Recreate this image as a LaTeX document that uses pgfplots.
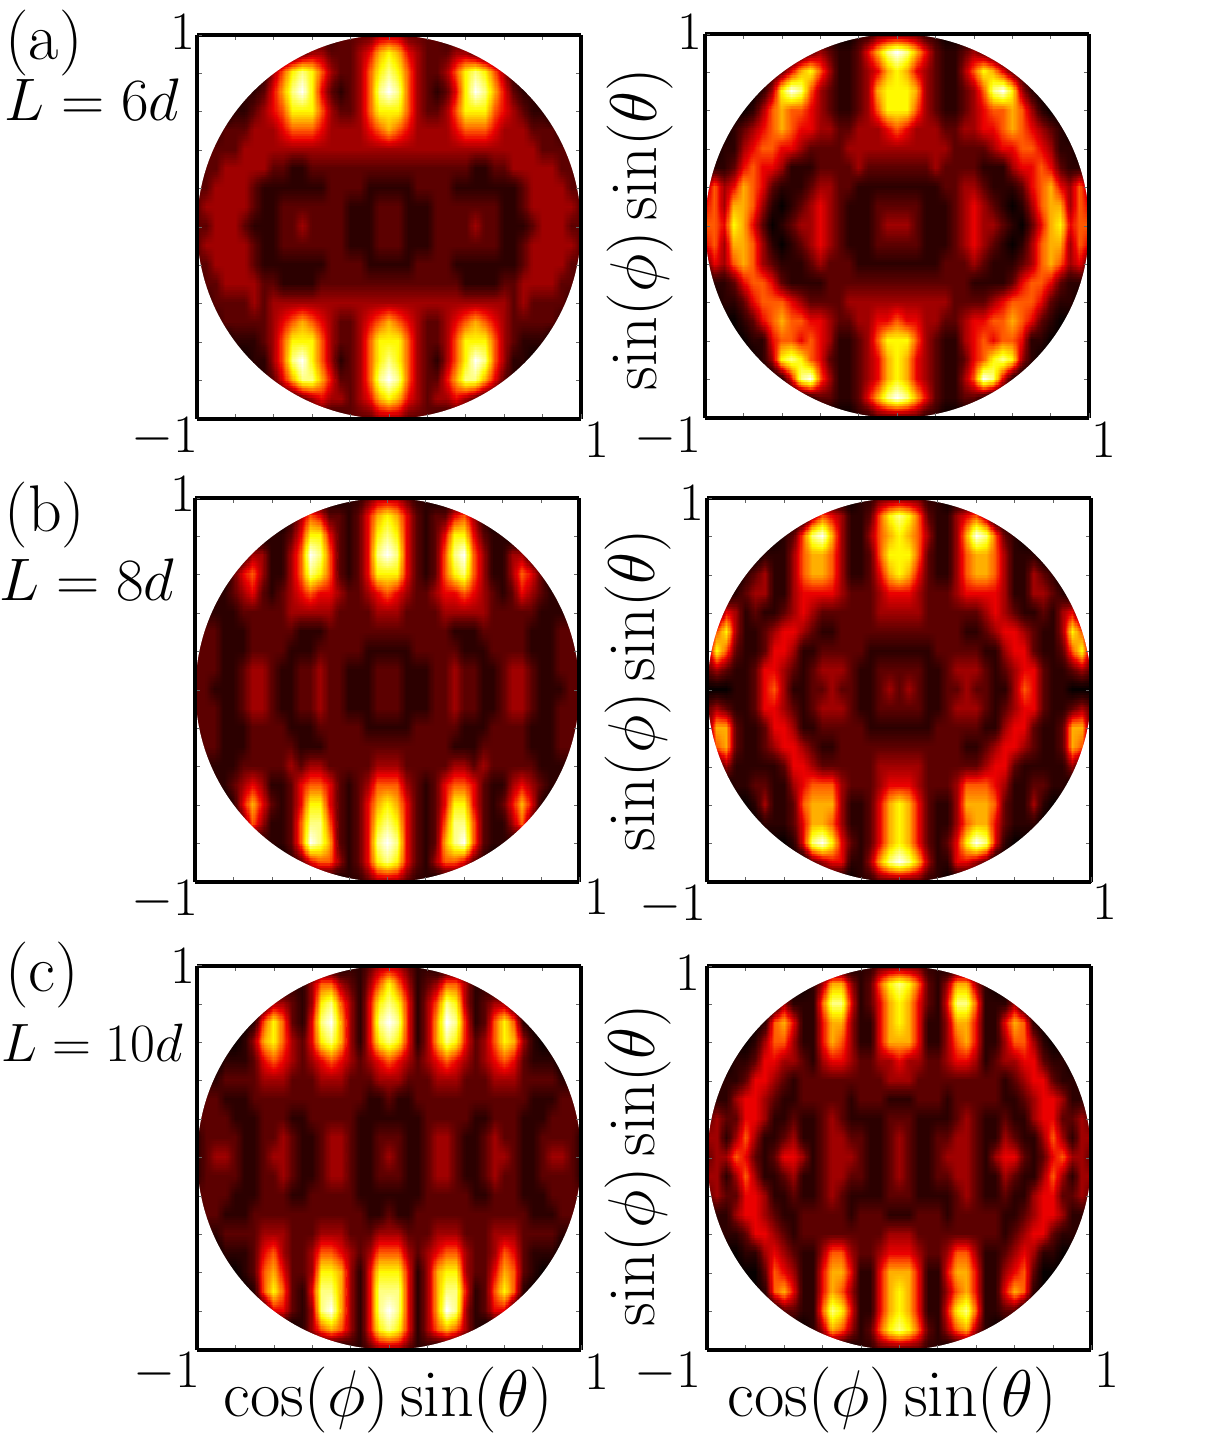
\RequirePackage{fix-cm}
\documentclass[border=0pt]{standalone}
\usepackage{pgfplots}
\usepackage{pgfplotstable}
\usepgfplotslibrary{patchplots}
\pgfplotsset{compat=1.18}

% intensity (levels 0-9), rows y=1..-1 step 0.1, columns |x|=0..1 step 0.05
\pgfplotstableset{row sep=\\,header=false}
\pgfplotstableread{
3\\3\\2\\2\\2\\2\\1\\1\\1\\1\\1\\0\\0\\0\\0\\0\\0\\0\\0\\0\\0\\
7\\6\\4\\3\\2\\2\\2\\3\\3\\2\\1\\1\\0\\0\\0\\0\\0\\0\\0\\0\\0\\
8\\7\\5\\3\\2\\2\\3\\5\\7\\8\\7\\5\\3\\1\\0\\0\\0\\0\\0\\0\\0\\
9\\8\\5\\3\\2\\1\\2\\4\\7\\9\\8\\6\\4\\2\\1\\1\\0\\0\\0\\0\\0\\
7\\7\\5\\3\\2\\2\\3\\5\\7\\7\\7\\5\\4\\3\\2\\1\\1\\0\\0\\0\\0\\
6\\5\\4\\3\\3\\3\\3\\4\\5\\5\\5\\4\\3\\3\\3\\2\\2\\2\\1\\0\\0\\
3\\3\\3\\3\\3\\3\\3\\3\\3\\3\\3\\3\\3\\3\\3\\3\\2\\2\\2\\2\\1\\
2\\2\\2\\2\\2\\2\\2\\2\\2\\1\\1\\2\\2\\3\\3\\3\\3\\3\\2\\2\\1\\
1\\1\\1\\2\\2\\2\\2\\1\\1\\1\\1\\1\\1\\1\\2\\3\\3\\3\\3\\2\\2\\
2\\2\\1\\1\\1\\2\\2\\2\\2\\2\\2\\2\\1\\1\\2\\3\\3\\3\\3\\3\\2\\
2\\2\\1\\1\\1\\2\\2\\2\\2\\3\\2\\2\\1\\1\\1\\2\\3\\3\\3\\2\\2\\
2\\2\\1\\1\\1\\2\\2\\2\\2\\2\\2\\2\\1\\1\\2\\3\\3\\3\\3\\3\\2\\
1\\1\\1\\2\\2\\2\\2\\1\\1\\1\\1\\1\\1\\1\\2\\3\\3\\3\\3\\2\\2\\
2\\2\\2\\2\\2\\2\\2\\2\\1\\1\\1\\1\\2\\2\\3\\3\\3\\3\\2\\2\\1\\
3\\3\\3\\3\\3\\3\\3\\3\\3\\3\\3\\3\\3\\2\\3\\2\\2\\2\\2\\1\\1\\
6\\5\\4\\3\\2\\2\\3\\4\\5\\6\\5\\4\\3\\2\\2\\2\\2\\2\\1\\0\\0\\
7\\7\\5\\3\\2\\2\\3\\5\\7\\7\\7\\5\\3\\2\\1\\1\\1\\0\\0\\0\\0\\
8\\7\\5\\3\\2\\1\\3\\5\\7\\9\\8\\5\\3\\1\\1\\0\\0\\0\\0\\0\\0\\
9\\8\\5\\3\\2\\2\\4\\6\\8\\8\\6\\4\\2\\1\\0\\0\\0\\0\\0\\0\\0\\
7\\6\\4\\3\\2\\3\\3\\4\\3\\2\\1\\1\\0\\0\\0\\0\\0\\0\\0\\0\\0\\
3\\3\\2\\2\\2\\1\\1\\1\\1\\1\\0\\0\\0\\0\\0\\0\\0\\0\\0\\0\\0\\
}\aL
\pgfplotstableread{
2\\2\\2\\1\\1\\0\\0\\0\\0\\0\\0\\0\\0\\0\\0\\0\\0\\0\\0\\0\\0\\
9\\8\\6\\4\\2\\1\\1\\2\\3\\2\\1\\0\\0\\0\\0\\0\\0\\0\\0\\0\\0\\
7\\6\\4\\3\\2\\1\\1\\3\\5\\7\\6\\4\\2\\1\\0\\0\\0\\0\\0\\0\\0\\
7\\7\\6\\3\\2\\1\\1\\2\\3\\5\\8\\9\\7\\3\\1\\0\\0\\0\\0\\0\\0\\
7\\7\\5\\3\\2\\1\\1\\2\\3\\4\\5\\5\\6\\5\\3\\1\\0\\0\\0\\0\\0\\
5\\4\\3\\3\\3\\2\\2\\3\\3\\4\\4\\5\\6\\5\\4\\3\\2\\1\\0\\0\\0\\
3\\3\\3\\3\\3\\3\\2\\2\\2\\2\\3\\4\\4\\5\\5\\4\\3\\1\\1\\0\\0\\
2\\2\\2\\2\\3\\2\\2\\2\\2\\1\\1\\1\\3\\4\\4\\5\\4\\2\\1\\1\\0\\
1\\1\\1\\1\\1\\2\\2\\3\\3\\2\\1\\1\\1\\2\\4\\5\\6\\4\\3\\5\\3\\
2\\2\\2\\1\\1\\1\\2\\3\\4\\3\\2\\1\\0\\1\\3\\5\\6\\6\\3\\5\\4\\
3\\3\\2\\1\\1\\1\\2\\3\\4\\3\\3\\2\\1\\0\\2\\4\\6\\7\\4\\5\\5\\
2\\2\\2\\1\\1\\1\\2\\3\\4\\3\\2\\1\\0\\1\\3\\5\\6\\6\\3\\5\\4\\
1\\1\\1\\1\\1\\2\\2\\2\\3\\2\\1\\1\\1\\2\\3\\5\\6\\5\\3\\4\\2\\
2\\2\\2\\2\\2\\2\\2\\2\\1\\1\\1\\1\\2\\4\\5\\5\\4\\2\\1\\1\\0\\
3\\3\\3\\3\\3\\3\\2\\2\\2\\2\\3\\4\\5\\5\\5\\4\\2\\1\\1\\0\\0\\
5\\4\\4\\3\\3\\2\\2\\3\\4\\4\\5\\5\\6\\5\\4\\2\\1\\0\\0\\0\\0\\
7\\7\\5\\3\\2\\1\\1\\3\\4\\5\\4\\5\\5\\4\\1\\1\\0\\0\\0\\0\\0\\
7\\6\\4\\3\\2\\1\\1\\2\\4\\5\\7\\8\\7\\3\\1\\0\\0\\0\\0\\0\\0\\
7\\6\\4\\3\\2\\1\\1\\3\\5\\9\\8\\4\\1\\0\\0\\0\\0\\0\\0\\0\\0\\
9\\8\\6\\4\\2\\1\\1\\2\\2\\1\\0\\0\\0\\0\\0\\0\\0\\0\\0\\0\\0\\
2\\2\\2\\1\\1\\0\\0\\0\\0\\0\\0\\0\\0\\0\\0\\0\\0\\0\\0\\0\\0\\
}\aR
\pgfplotstableread{
3\\3\\2\\1\\1\\0\\0\\0\\0\\0\\0\\0\\0\\0\\0\\0\\0\\0\\0\\0\\0\\
7\\6\\4\\2\\1\\2\\2\\4\\5\\3\\1\\0\\0\\0\\0\\0\\0\\0\\0\\0\\0\\
8\\7\\4\\2\\1\\2\\4\\7\\7\\4\\2\\1\\1\\0\\0\\0\\0\\0\\0\\0\\0\\
9\\8\\4\\2\\1\\2\\5\\8\\9\\5\\3\\1\\1\\3\\3\\1\\0\\0\\0\\0\\0\\
7\\7\\4\\2\\1\\2\\5\\7\\8\\5\\3\\1\\1\\3\\5\\4\\2\\0\\0\\0\\0\\
5\\4\\3\\2\\2\\3\\4\\4\\5\\4\\3\\2\\1\\2\\4\\3\\2\\1\\1\\0\\0\\
3\\3\\2\\2\\2\\2\\3\\3\\3\\3\\3\\2\\2\\2\\2\\2\\1\\1\\1\\1\\0\\
2\\2\\2\\2\\2\\2\\2\\1\\1\\1\\2\\2\\2\\2\\2\\1\\1\\1\\2\\2\\1\\
1\\1\\1\\2\\2\\2\\2\\2\\1\\1\\1\\2\\2\\2\\2\\1\\1\\1\\2\\2\\2\\
2\\2\\1\\1\\1\\2\\2\\3\\2\\2\\1\\1\\2\\3\\3\\2\\1\\1\\2\\2\\2\\
2\\2\\1\\1\\1\\2\\2\\3\\2\\2\\1\\1\\2\\3\\3\\2\\1\\1\\1\\2\\2\\
2\\2\\1\\1\\1\\2\\2\\3\\2\\2\\1\\1\\2\\3\\3\\2\\1\\1\\2\\2\\2\\
1\\1\\1\\2\\2\\2\\2\\2\\1\\1\\1\\2\\2\\2\\2\\1\\1\\1\\2\\2\\2\\
2\\2\\2\\2\\2\\2\\2\\1\\1\\1\\2\\2\\2\\2\\2\\1\\1\\1\\2\\2\\1\\
3\\3\\2\\2\\2\\2\\2\\3\\3\\2\\3\\2\\2\\2\\2\\2\\1\\1\\1\\1\\0\\
5\\5\\3\\2\\1\\2\\4\\5\\5\\4\\2\\1\\1\\3\\4\\3\\2\\1\\1\\0\\0\\
7\\6\\4\\2\\1\\2\\4\\7\\7\\4\\2\\1\\2\\4\\6\\4\\1\\0\\0\\0\\0\\
8\\7\\4\\2\\1\\2\\5\\8\\8\\5\\2\\1\\1\\3\\5\\2\\0\\0\\0\\0\\0\\
9\\8\\4\\2\\1\\2\\6\\8\\9\\5\\2\\1\\1\\1\\0\\0\\0\\0\\0\\0\\0\\
8\\7\\4\\2\\1\\3\\5\\5\\4\\2\\1\\0\\0\\0\\0\\0\\0\\0\\0\\0\\0\\
3\\3\\2\\1\\1\\0\\0\\0\\0\\0\\0\\0\\0\\0\\0\\0\\0\\0\\0\\0\\0\\
}\bL
\pgfplotstableread{
2\\2\\2\\1\\1\\0\\0\\0\\0\\0\\0\\0\\0\\0\\0\\0\\0\\0\\0\\0\\0\\
8\\7\\5\\2\\1\\1\\3\\4\\5\\3\\0\\0\\0\\0\\0\\0\\0\\0\\0\\0\\0\\
7\\6\\5\\3\\1\\1\\3\\6\\9\\8\\5\\2\\1\\0\\0\\0\\0\\0\\0\\0\\0\\
7\\7\\5\\2\\1\\1\\3\\5\\6\\6\\5\\3\\1\\1\\1\\0\\0\\0\\0\\0\\0\\
7\\6\\4\\2\\1\\1\\3\\5\\6\\6\\5\\3\\1\\1\\3\\2\\1\\0\\0\\0\\0\\
4\\4\\3\\2\\2\\2\\3\\4\\4\\4\\4\\3\\1\\1\\3\\3\\2\\1\\0\\0\\0\\
3\\3\\3\\2\\2\\2\\2\\2\\2\\3\\4\\3\\2\\1\\1\\2\\1\\3\\4\\1\\0\\
2\\2\\2\\2\\2\\2\\2\\1\\1\\2\\3\\4\\4\\3\\2\\1\\1\\3\\7\\5\\1\\
1\\1\\1\\1\\2\\2\\2\\2\\2\\1\\1\\3\\4\\4\\2\\1\\1\\2\\5\\7\\3\\
2\\2\\2\\1\\1\\2\\3\\3\\3\\2\\1\\2\\3\\4\\4\\2\\1\\1\\2\\3\\2\\
2\\3\\2\\1\\1\\2\\2\\3\\2\\2\\1\\1\\3\\5\\4\\2\\1\\1\\0\\0\\0\\
2\\2\\2\\1\\1\\2\\3\\3\\3\\2\\1\\2\\3\\4\\4\\2\\1\\1\\2\\3\\2\\
1\\1\\1\\1\\2\\2\\2\\2\\2\\1\\1\\3\\4\\4\\2\\1\\1\\2\\6\\6\\2\\
2\\2\\2\\2\\2\\2\\2\\1\\1\\2\\3\\4\\4\\3\\2\\1\\1\\2\\6\\5\\1\\
3\\3\\3\\2\\2\\2\\2\\2\\2\\3\\4\\4\\2\\1\\1\\1\\1\\1\\3\\1\\0\\
4\\4\\3\\2\\2\\2\\3\\5\\5\\5\\4\\3\\1\\1\\2\\2\\1\\1\\0\\0\\0\\
7\\6\\4\\2\\1\\1\\3\\6\\6\\6\\5\\2\\1\\1\\3\\1\\0\\0\\0\\0\\0\\
7\\6\\4\\2\\1\\1\\3\\5\\6\\6\\4\\2\\1\\1\\1\\0\\0\\0\\0\\0\\0\\
7\\6\\4\\2\\1\\2\\4\\7\\9\\8\\4\\1\\0\\0\\0\\0\\0\\0\\0\\0\\0\\
9\\8\\6\\3\\1\\1\\4\\4\\3\\2\\0\\0\\0\\0\\0\\0\\0\\0\\0\\0\\0\\
2\\2\\2\\1\\1\\0\\0\\0\\0\\0\\0\\0\\0\\0\\0\\0\\0\\0\\0\\0\\0\\
}\bR
\pgfplotstableread{
3\\3\\2\\1\\1\\0\\0\\0\\0\\0\\0\\0\\0\\0\\0\\0\\0\\0\\0\\0\\0\\
7\\5\\3\\1\\2\\3\\5\\5\\3\\1\\1\\0\\0\\0\\0\\0\\0\\0\\0\\0\\0\\
8\\7\\4\\1\\3\\5\\8\\7\\3\\1\\2\\3\\3\\1\\0\\0\\0\\0\\0\\0\\0\\
9\\8\\4\\1\\3\\6\\9\\8\\4\\1\\2\\5\\7\\5\\1\\0\\0\\0\\0\\0\\0\\
8\\7\\4\\1\\3\\6\\8\\7\\4\\2\\3\\5\\7\\6\\3\\1\\0\\0\\0\\0\\0\\
5\\4\\3\\2\\3\\4\\5\\4\\3\\2\\3\\4\\5\\4\\2\\1\\1\\1\\0\\0\\0\\
3\\3\\2\\2\\2\\3\\3\\3\\2\\2\\2\\3\\3\\3\\2\\2\\2\\2\\1\\1\\1\\
2\\1\\1\\2\\2\\2\\2\\2\\2\\2\\2\\2\\2\\2\\2\\1\\1\\1\\2\\2\\1\\
1\\1\\1\\1\\2\\2\\2\\2\\2\\1\\1\\2\\2\\2\\1\\1\\1\\2\\2\\2\\2\\
2\\2\\1\\1\\2\\3\\3\\2\\1\\1\\2\\3\\2\\2\\1\\1\\2\\2\\2\\2\\1\\
3\\2\\1\\1\\2\\3\\3\\2\\1\\1\\2\\3\\3\\2\\1\\1\\2\\3\\3\\2\\1\\
2\\2\\1\\1\\2\\3\\3\\2\\1\\1\\2\\3\\2\\2\\1\\1\\2\\2\\2\\2\\1\\
1\\1\\1\\1\\2\\2\\2\\2\\2\\1\\1\\2\\2\\2\\1\\1\\1\\2\\2\\2\\2\\
2\\1\\1\\2\\2\\2\\2\\2\\2\\2\\2\\2\\2\\2\\2\\1\\1\\1\\2\\2\\1\\
3\\3\\2\\2\\2\\3\\3\\3\\2\\2\\2\\3\\3\\3\\2\\2\\2\\2\\1\\1\\1\\
5\\5\\3\\2\\3\\4\\5\\5\\3\\2\\2\\3\\5\\4\\2\\1\\1\\1\\0\\0\\0\\
7\\7\\4\\1\\3\\6\\7\\7\\3\\2\\2\\4\\6\\5\\2\\1\\0\\0\\0\\0\\0\\
8\\8\\4\\1\\3\\6\\8\\8\\4\\1\\2\\5\\7\\5\\1\\0\\0\\0\\0\\0\\0\\
9\\8\\4\\1\\3\\6\\9\\8\\3\\1\\2\\4\\4\\1\\0\\0\\0\\0\\0\\0\\0\\
8\\7\\4\\1\\3\\5\\6\\5\\3\\1\\0\\0\\0\\0\\0\\0\\0\\0\\0\\0\\0\\
3\\3\\2\\1\\1\\0\\0\\0\\0\\0\\0\\0\\0\\0\\0\\0\\0\\0\\0\\0\\0\\
}\cL
\pgfplotstableread{
2\\2\\2\\1\\1\\0\\0\\0\\0\\0\\0\\0\\0\\0\\0\\0\\0\\0\\0\\0\\0\\
8\\7\\5\\2\\1\\3\\6\\6\\3\\1\\0\\0\\0\\0\\0\\0\\0\\0\\0\\0\\0\\
7\\6\\4\\2\\1\\4\\8\\8\\5\\1\\1\\1\\3\\0\\0\\0\\0\\0\\0\\0\\0\\
7\\6\\4\\1\\1\\3\\6\\6\\4\\1\\1\\4\\6\\5\\1\\0\\0\\0\\0\\0\\0\\
6\\6\\4\\1\\1\\3\\5\\6\\4\\1\\1\\3\\5\\5\\3\\1\\0\\0\\0\\0\\0\\
4\\3\\3\\2\\2\\3\\4\\4\\3\\1\\2\\3\\3\\4\\4\\2\\1\\1\\0\\0\\0\\
3\\3\\2\\2\\2\\2\\2\\2\\2\\2\\2\\1\\2\\3\\4\\4\\2\\1\\1\\1\\0\\
1\\1\\2\\2\\2\\1\\2\\2\\2\\2\\2\\1\\1\\2\\3\\4\\4\\3\\1\\1\\1\\
2\\2\\1\\1\\1\\1\\2\\3\\2\\1\\1\\2\\1\\1\\3\\4\\4\\2\\2\\3\\2\\
3\\2\\1\\1\\2\\2\\3\\3\\2\\1\\1\\3\\2\\1\\1\\3\\5\\3\\1\\3\\3\\
3\\2\\1\\1\\2\\3\\3\\3\\2\\1\\3\\4\\4\\2\\1\\2\\4\\5\\3\\3\\2\\
3\\2\\1\\1\\2\\2\\3\\3\\2\\1\\1\\3\\2\\1\\1\\3\\5\\3\\1\\3\\3\\
2\\2\\1\\1\\1\\1\\2\\3\\2\\1\\1\\2\\1\\1\\3\\4\\4\\2\\2\\3\\2\\
1\\1\\2\\2\\2\\1\\2\\2\\2\\2\\2\\1\\1\\2\\3\\4\\4\\3\\1\\1\\1\\
3\\3\\2\\2\\2\\2\\2\\2\\2\\2\\2\\1\\2\\3\\4\\4\\2\\1\\1\\1\\0\\
4\\4\\3\\2\\2\\3\\5\\5\\3\\1\\1\\2\\3\\4\\3\\1\\1\\0\\0\\0\\0\\
6\\6\\4\\1\\1\\4\\6\\6\\4\\1\\1\\3\\4\\5\\2\\0\\0\\0\\0\\0\\0\\
7\\6\\4\\1\\1\\3\\5\\6\\4\\1\\1\\4\\6\\5\\1\\0\\0\\0\\0\\0\\0\\
7\\6\\4\\1\\1\\4\\7\\8\\5\\1\\1\\2\\2\\0\\0\\0\\0\\0\\0\\0\\0\\
8\\7\\5\\2\\1\\3\\5\\6\\3\\1\\0\\0\\0\\0\\0\\0\\0\\0\\0\\0\\0\\
2\\2\\2\\1\\1\\0\\0\\0\\0\\0\\0\\0\\0\\0\\0\\0\\0\\0\\0\\0\\0\\
}\cR

\pgfplotsset{
  hm/.style={
    scale only axis, width=192pt, height=192pt, anchor=south west,
    xmin=-1, xmax=1, ymin=-1, ymax=1, view={0}{90},
    xtick={-1,-0.8,-0.6,-0.4,-0.2,0,0.2,0.4,0.6,0.8,1},
    ytick={-1,-0.8,-0.6,-0.4,-0.2,0,0.2,0.4,0.6,0.8,1},
    xticklabels={}, yticklabels={}, ztick=\empty,
    tick align=inside, major tick length=2.5pt,
    tick style={line width=0.4pt, black!60},
    axis line style={line width=2pt},
    axis on top, point meta min=0, point meta max=9,
    colormap={hot}{rgb255(0pt)=(6,0,0); rgb255(1pt)=(44,0,0); rgb255(2pt)=(92,0,0); rgb255(3pt)=(160,0,0);
      rgb255(4pt)=(235,0,0); rgb255(5pt)=(255,90,0); rgb255(6pt)=(255,175,0); rgb255(7pt)=(255,250,0);
      rgb255(8pt)=(255,255,130); rgb255(9pt)=(255,255,255)},
  },
  half/.style={surf, shader=interp, patch type=bilinear, mesh/rows=21, mesh/ordering=x varies, point meta=explicit},
}
% the table holds x>=0; the same readings are drawn on both sides of x=0
% (+0.5 keeps floor from rounding down on exact multiples of 21)
\newcommand\hm[1]{
  \addplot3[half] table[x index=0, y index=0, z index=0, x expr={0.05*(\coordindex-21*floor((\coordindex+0.5)/21))}, y expr={1-0.1*floor((\coordindex+0.5)/21)}, z expr=0, meta index=0] {#1};
  \addplot3[half] table[x index=0, y index=0, z index=0, x expr={-0.05*(\coordindex-21*floor((\coordindex+0.5)/21))}, y expr={1-0.1*floor((\coordindex+0.5)/21)}, z expr=0, meta index=0] {#1};
  \fill[white, even odd rule] (axis cs:-1,-1) rectangle (axis cs:1,1) (axis cs:0,0) circle[radius=96pt];
}
\newcommand\fsT{\fontsize{27}{32}\selectfont}
\newcommand\fsP{\fontsize{33}{40}\selectfont}
\newcommand\fsL{\fontsize{30}{36}\selectfont}

\begin{document}
\begin{tikzpicture}
\path[use as bounding box] (0,0) rectangle (608.5pt,728pt);

\begin{axis}[hm, at={(98.5pt,518.5pt)}] \hm{\aL} \end{axis}
\begin{axis}[hm, at={(352.6pt,519pt)}] \hm{\aR} \end{axis}
\begin{axis}[hm, at={(97.7pt,287pt)}] \hm{\bL} \end{axis}
\begin{axis}[hm, at={(353.7pt,286.9pt)}] \hm{\bR} \end{axis}
\begin{axis}[hm, at={(98.6pt,53.2pt)}] \hm{\cL} \end{axis}
\begin{axis}[hm, at={(353.7pt,53pt)}] \hm{\cR} \end{axis}

\begin{scope}[every node/.style={font=\fsT, inner sep=0pt}]
% positions are pixels of the reference halved, y from the bottom
\node[font=\fsP] at (22pt,706.5pt) {(a)};
\node[font=\fsL] at (46pt,678pt) {$L=6d$};
\node[font=\fsP] at (22.5pt,470.5pt) {(b)};
\node[font=\fsL] at (43.5pt,438pt) {$L=8d$};
\node[font=\fsP] at (21pt,240.5pt) {(c)};
\node[font=\fsT] at (46pt,206.5pt) {$L=10d$};

\node at (91.5pt,712pt) {$1$};
\node at (82.5pt,509.5pt) {$-1$};
\node at (298.5pt,508pt) {$1$};
\node at (345pt,712pt) {$1$};
\node at (334pt,509.5pt) {$-1$};
\node at (552pt,508pt) {$1$};

\node at (91.5pt,481pt) {$1$};
\node at (82.5pt,278pt) {$-1$};
\node at (298.5pt,279.5pt) {$1$};
\node at (346pt,476.5pt) {$1$};
\node at (336.5pt,275.5pt) {$-1$};
\node at (552.5pt,277pt) {$1$};

\node at (91.5pt,245pt) {$1$};
\node at (83.5pt,42pt) {$-1$};
\node at (298.5pt,42pt) {$1$};
\node at (344pt,241.5pt) {$1$};
\node at (334pt,42pt) {$-1$};
\node at (553.5pt,43pt) {$1$};

\node[font=\fsP, rotate=90] at (320pt,613.5pt) {$\sin(\phi)\sin(\theta)$};
\node[font=\fsP, rotate=90] at (319pt,383pt) {$\sin(\phi)\sin(\theta)$};
\node[font=\fsP, rotate=90] at (319pt,145.5pt) {$\sin(\phi)\sin(\theta)$};
\node[font=\fsP] at (194pt,28pt) {$\cos(\phi)\sin(\theta)$};
\node[font=\fsP] at (446pt,28pt) {$\cos(\phi)\sin(\theta)$};
\end{scope}
\end{tikzpicture}
\end{document}
